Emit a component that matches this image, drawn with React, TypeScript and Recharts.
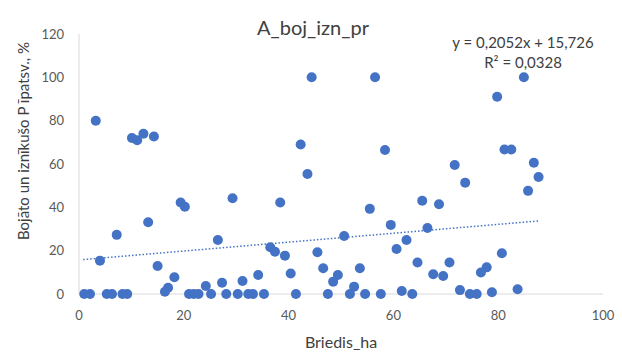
import { ScatterChart, Scatter, XAxis, YAxis, ReferenceLine } from "recharts";

// chart size
const W = 622;
const H = 352;
const FONT = "Lato, 'Open Sans', sans-serif";
const DOT = "#4472C4";
const TEXT = "#595959";

// Briedis_ha (x) and A_boj_izn_pr (y)
const areaHa = [
  3.2, 10.1, 11.1, 12.3, 14.3, 44.4, 56.5, 84.9, 79.8, 42.3, 58.4, 81.2, 82.5,
  86.8, 71.7, 43.6, 87.7, 85.7, 73.7, 38.4, 19.4, 20.2, 29.3, 55.5, 65.5, 68.7,
  13.2, 59.5, 66.5, 7.2, 50.6, 26.5, 62.5, 60.6, 36.5, 37.4, 39.3, 45.5, 80.7,
  4.0, 15.0, 46.6, 53.6, 64.6, 70.7, 77.8, 76.7, 67.6, 69.5, 34.2, 40.4, 49.4,
  48.5, 18.2, 31.2, 27.3, 52.5, 24.2, 17.0, 16.4, 61.6, 72.7, 78.8, 83.7,
  1.0, 2.1, 5.3, 6.3, 8.3, 9.2, 21.0, 21.9, 22.8, 25.2, 28.1, 30.3, 32.3, 33.2,
  35.3, 41.4, 47.5, 51.7, 54.6, 57.6, 63.6, 74.6, 75.9,
];
const damagedPct = [
  80, 72, 71, 74, 72.7, 100, 100, 100, 91, 69, 66.5, 66.7, 66.7,
  60.6, 59.5, 55.4, 54, 47.6, 51.4, 42.2, 42.2, 40.3, 44.2, 39.3, 43, 41.4,
  33.1, 31.9, 30.5, 27.3, 26.8, 24.9, 24.9, 20.8, 21.6, 19.5, 17.7, 19.3, 18.8,
  15.4, 12.9, 11.9, 11.9, 14.5, 14.5, 12.3, 9.9, 9.1, 8.3, 8.8, 9.5, 8.8,
  5.7, 7.7, 6, 5.2, 3.4, 3.7, 2.9, 1.0, 1.4, 1.8, 0.8, 2.2,
  0, 0, 0, 0, 0, 0, 0, 0, 0, 0, 0, 0, 0, 0,
  0, 0, 0, 0, 0, 0, 0, 0, 0,
];

const xTicks = [0, 20, 40, 60, 80, 100];
const yTicks = [0, 20, 40, 60, 80, 100, 120];

// linear trendline from the chart equation
const slope = 0.2052;
const intercept = 15.726;
const trendFrom = 0.8;
const trendTo = 87.7;

const points = areaHa.map((x, i) => ({ x, y: damagedPct[i] }));

export default function App() {
  return (
    <div
      style={{
        position: "absolute",
        left: 0,
        top: 0,
        width: W,
        height: H,
        background: "#fff",
        fontFamily: FONT,
      }}
    >
      <ScatterChart
        width={W}
        height={H}
        margin={{ top: 34, right: 19, bottom: 28, left: 29 }}
      >
        <XAxis
          type="number"
          dataKey="x"
          domain={[0, 100]}
          ticks={xTicks}
          tickLine={false}
          tickMargin={11}
          height={30}
          stroke="#d9d9d9"
          tick={{ fill: TEXT, fontSize: 13, fontFamily: FONT }}
        />
        <YAxis
          type="number"
          dataKey="y"
          domain={[0, 120]}
          ticks={yTicks}
          tickLine={false}
          tickMargin={9}
          width={50}
          stroke="#d9d9d9"
          tick={{ fill: TEXT, fontSize: 13, fontFamily: FONT }}
        />
        <ReferenceLine
          segment={[
            { x: trendFrom, y: slope * trendFrom + intercept },
            { x: trendTo, y: slope * trendTo + intercept },
          ]}
          stroke={DOT}
          strokeWidth={1.5}
          strokeDasharray="1.5 2"
        />
        <Scatter
          data={points}
          fill={DOT}
          isAnimationActive={false}
          shape={(p: any) => <circle cx={p.cx} cy={p.cy} r={5} fill={DOT} />}
        />
      </ScatterChart>

      <div
        style={{
          position: "absolute",
          left: 313,
          top: 27,
          transform: "translate(-50%, -50%)",
          fontSize: 20,
          color: "#404040",
          whiteSpace: "nowrap",
        }}
      >
        A_boj_izn_pr
      </div>
      <div
        style={{
          position: "absolute",
          left: 523,
          top: 32,
          transform: "translateX(-50%)",
          fontSize: 15,
          lineHeight: "20px",
          color: "#404040",
          textAlign: "center",
          whiteSpace: "nowrap",
        }}
      >
        y = 0,2052x + 15,726
        <br />
        R² = 0,0328
      </div>
      <div
        style={{
          position: "absolute",
          left: 341,
          top: 341,
          transform: "translate(-50%, -50%)",
          fontSize: 16,
          color: "#404040",
          whiteSpace: "nowrap",
        }}
      >
        Briedis_ha
      </div>
      <div
        style={{
          position: "absolute",
          left: 23,
          top: 141,
          transform: "translate(-50%, -50%) rotate(-90deg)",
          fontSize: 15,
          color: "#404040",
          whiteSpace: "nowrap",
        }}
      >
        Bojāto un iznīkušo P īpatsv., %
      </div>
    </div>
  );
}
